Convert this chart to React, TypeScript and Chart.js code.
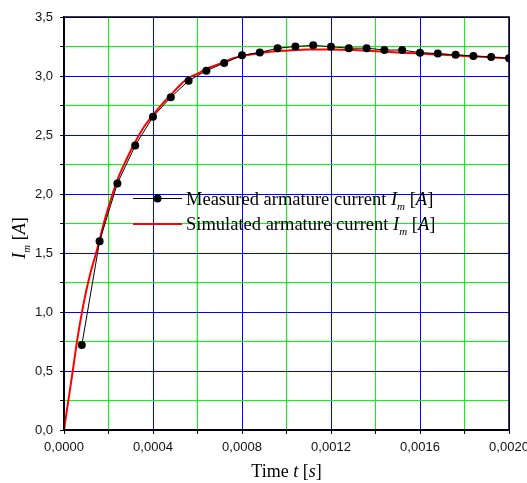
import React, { useEffect, useRef } from 'react';
import { Chart, registerables } from 'chart.js';

Chart.register(...registerables);

// ---- data ----
const measuredTime = [
  0.00008, 0.00016, 0.00024, 0.00032, 0.0004, 0.00048, 0.00056, 0.00064, 0.00072, 0.0008,
  0.00088, 0.00096, 0.00104, 0.00112, 0.0012, 0.00128, 0.00136, 0.00144, 0.00152, 0.0016,
  0.00168, 0.00176, 0.00184, 0.00192, 0.002,
];
const measuredCurrent = [
  0.72, 1.6, 2.09, 2.41, 2.655, 2.82, 2.96, 3.045, 3.11, 3.175,
  3.2, 3.235, 3.25, 3.26, 3.248, 3.236, 3.236, 3.22, 3.22, 3.198,
  3.19, 3.18, 3.17, 3.16, 3.15,
];
const simTime = [
  0, 0.00002, 0.00004, 0.00006, 0.00008, 0.0001, 0.00012, 0.00014, 0.00016, 0.00018,
  0.0002, 0.00022, 0.00024, 0.00028, 0.00032, 0.00036, 0.0004, 0.00044, 0.00048, 0.00052,
  0.00056, 0.0006, 0.00064, 0.00068, 0.00072, 0.00076, 0.0008, 0.0009, 0.001, 0.0011,
  0.0012, 0.0013, 0.0014, 0.0015, 0.0016, 0.0017, 0.0018, 0.0019, 0.002,
];
const simCurrent = [
  0, 0.255, 0.51, 0.77, 0.99, 1.18, 1.34, 1.47, 1.61, 1.76,
  1.89, 2.01, 2.12, 2.29, 2.44, 2.57, 2.67, 2.76, 2.84, 2.92,
  2.985, 3.02, 3.06, 3.09, 3.12, 3.15, 3.17, 3.2, 3.215, 3.225,
  3.225, 3.22, 3.21, 3.2, 3.19, 3.18, 3.17, 3.16, 3.15,
];
const xTickMinorStep = 0.0002;
const yTickMinorStep = 0.25;
const measuredLabel = 'Measured armature current ';
const simulatedLabel = 'Simulated armature current ';
const xTitle = 'Time ';

const SERIF = '"Liberation Serif", "Times New Roman", serif';
const SANS = '"Liberation Sans", Arial, sans-serif';
const BLUE = 'rgb(0,0,255)';
const GREEN = 'rgb(0,255,0)';

type Part = { t: string; i?: boolean; sub?: boolean };

function fontFor(p: Part, size: number) {
  return `${p.i ? 'italic ' : ''}${p.sub ? Math.round(size * 0.62) : size}px ${SERIF}`;
}

function drawRich(ctx: CanvasRenderingContext2D, parts: Part[], x: number, y: number, size: number, align: 'left' | 'center') {
  const widths = parts.map((p) => {
    ctx.font = fontFor(p, size);
    return ctx.measureText(p.t).width;
  });
  const total = widths.reduce((a, b) => a + b, 0);
  let cx = align === 'center' ? x - total / 2 : x;
  ctx.textAlign = 'left';
  ctx.textBaseline = 'alphabetic';
  ctx.fillStyle = '#000';
  parts.forEach((p, k) => {
    ctx.font = fontFor(p, size);
    ctx.fillText(p.t, cx, p.sub ? y + size * 0.28 : y);
    cx += widths[k];
  });
}

const unitParts = (sym: string): Part[] => [
  { t: 'I', i: true },
  { t: 'm', i: true, sub: true },
  { t: ' [' },
  { t: sym, i: true },
  { t: ']' },
];

const isMajor = (v: number, minor: number) => Math.round(v / minor) % 2 === 0;

const decorPlugin = {
  id: 'decor',
  afterDraw(chart: any) {
    const ctx: CanvasRenderingContext2D = chart.ctx;
    const a = chart.chartArea;
    ctx.save();
    // frame
    ctx.strokeStyle = '#000';
    ctx.lineWidth = 1.5;
    ctx.strokeRect(a.left, a.top, a.right - a.left, a.bottom - a.top);

    const size = 18;
    const legendSize = 18.5;
    // legend
    const lx0 = 133, lx1 = 182;
    const ly1 = 198.5, ly2 = 224;
    ctx.strokeStyle = '#000';
    ctx.lineWidth = 1;
    ctx.beginPath();
    ctx.moveTo(lx0, ly1);
    ctx.lineTo(lx1, ly1);
    ctx.stroke();
    ctx.fillStyle = '#000';
    ctx.beginPath();
    ctx.arc((lx0 + lx1) / 2, ly1, 4, 0, Math.PI * 2);
    ctx.fill();
    ctx.strokeStyle = 'rgb(255,0,0)';
    ctx.lineWidth = 2;
    ctx.beginPath();
    ctx.moveTo(lx0, ly2);
    ctx.lineTo(lx1, ly2);
    ctx.stroke();
    drawRich(ctx, [{ t: measuredLabel }, ...unitParts('A')], 186, ly1 + 6, legendSize, 'left');
    drawRich(ctx, [{ t: simulatedLabel }, ...unitParts('A')], 186, ly2 + 5.5, legendSize, 'left');

    // x title
    drawRich(
      ctx,
      [{ t: xTitle }, { t: 't', i: true }, { t: ' [' }, { t: 's', i: true }, { t: ']' }],
      (a.left + a.right) / 2,
      477,
      size,
      'center'
    );
    // y title
    ctx.save();
    ctx.translate(24.5, 238);
    ctx.rotate(-Math.PI / 2);
    drawRich(ctx, unitParts('A'), 0, 0, size, 'center');
    ctx.restore();
    ctx.restore();
  },
};

export default function App() {
  const ref = useRef<HTMLCanvasElement>(null);
  useEffect(() => {
    if (!ref.current) return;
    const measured = measuredTime.map((x, k) => ({ x, y: measuredCurrent[k] }));
    const simulated = simTime.map((x, k) => ({ x, y: simCurrent[k] }));
    const chart = new Chart(ref.current, {
      type: 'line',
      data: {
        datasets: [
          {
            label: 'Measured',
            data: measured,
            borderColor: '#000',
            backgroundColor: '#000',
            borderWidth: 1,
            pointRadius: 4,
            pointBorderWidth: 0,
            pointBackgroundColor: '#000',
            tension: 0,
          },
          {
            label: 'Simulated',
            data: simulated,
            borderColor: 'rgb(255,0,0)',
            borderWidth: 2,
            pointRadius: 0,
            cubicInterpolationMode: 'monotone',
          },
        ],
      },
      options: {
        responsive: false,
        animation: false,
        layout: { padding: { left: 0, top: 17, right: 18, bottom: 0 } },
        plugins: { legend: { display: false }, tooltip: { enabled: false } },
        scales: {
          x: {
            type: 'linear',
            min: 0,
            max: 0.002,
            afterFit: (s: any) => {
              s.height = 53;
              s.paddingLeft = 0;
              s.paddingRight = 0;
            },
            ticks: {
              stepSize: xTickMinorStep,
              autoSkip: false,
              maxRotation: 0,
              padding: 6,
              color: '#111',
              font: { family: SANS, size: 13 },
              callback: (v: any) => {
                const n = Number(v);
                return isMajor(n, xTickMinorStep) ? n.toFixed(4).replace('.', ',') : '';
              },
            },
            grid: {
              color: (c: any) => (isMajor(c.tick.value, xTickMinorStep) ? BLUE : GREEN),
              lineWidth: 1,
              tickColor: '#000',
              tickLength: 4,
              tickWidth: 1,
            },
            border: { display: true, color: '#000', width: 1.5 },
          },
          y: {
            type: 'linear',
            min: 0,
            max: 3.5,
            afterFit: (s: any) => {
              s.width = 64;
              s.paddingTop = 0;
              s.paddingBottom = 0;
            },
            ticks: {
              stepSize: yTickMinorStep,
              autoSkip: false,
              padding: 7,
              color: '#111',
              font: { family: SANS, size: 13 },
              callback: (v: any) => {
                const n = Number(v);
                return isMajor(n, yTickMinorStep) ? n.toFixed(1).replace('.', ',') : '';
              },
            },
            grid: {
              color: (c: any) => (isMajor(c.tick.value, yTickMinorStep) ? BLUE : GREEN),
              lineWidth: 1,
              tickColor: '#000',
              tickLength: 4,
              tickWidth: 1,
            },
            border: { display: true, color: '#000', width: 1.5 },
          },
        },
      },
      plugins: [decorPlugin],
    });
    return () => chart.destroy();
  }, []);
  return (
    <div style={{ position: 'fixed', left: 0, top: 0, width: 527, height: 483, background: '#fff' }}>
      <canvas ref={ref} width={527} height={483} style={{ display: 'block' }} />
    </div>
  );
}
